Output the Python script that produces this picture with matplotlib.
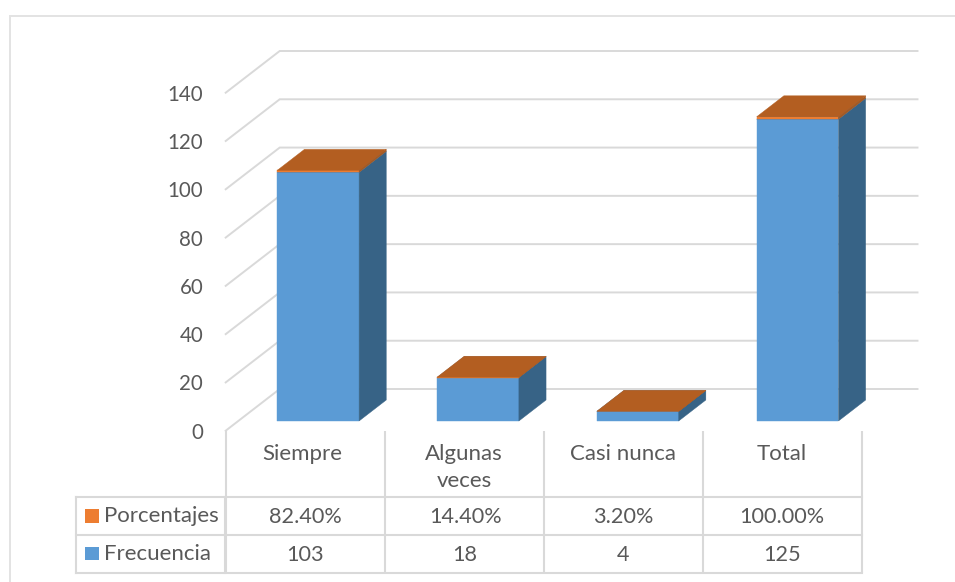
import matplotlib
matplotlib.use("Agg")
import matplotlib.pyplot as plt
from matplotlib.patches import Polygon, Rectangle
import numpy as np

categories = ["Siempre", "Algunas\nveces", "Casi nunca", "Total"]
frecuencia = [103, 18, 4, 125]
porcentajes = [0.824, 0.144, 0.032, 1.0]
frecuencia_labels = ["103", "18", "4", "125"]
porcentajes_labels = ["82.40%", "14.40%", "3.20%", "100.00%"]
y_ticks = [0, 20, 40, 60, 80, 100, 120, 140]

W, H = 955, 582
plt.rcParams['font.family'] = ['Lato', 'DejaVu Sans']
TXT = "#595959"
GRID = "#d9d9d9"
FS_TICK = 14.8
FS_WORD = 16.0
FS_NUM = 15.6

fig = plt.figure(figsize=(W / 100, H / 100), dpi=100, facecolor="white")

# overlay in pixel coordinates for the frame and the data table
ov = fig.add_axes([0, 0, 1, 1], zorder=0)
ov.set_xlim(0, W)
ov.set_ylim(H, 0)
ov.axis("off")

# main axes: one category = 159.8 px, 140 units = 338 px
XU = 159.8
L, T, B = 225.7, 92.7, 430.7
R = L + 4 * XU
ax = fig.add_axes([L / W, 1 - B / H, (R - L) / W, (B - T) / H], zorder=1)
ax.patch.set_alpha(0)
ax.set_xlim(0, 4)
ax.set_ylim(0, 140)
for s in ax.spines.values():
    s.set_visible(False)
ax.set_xticks([])
ax.set_yticks(y_ticks)
ax.tick_params(axis="y", length=0, pad=16.2, labelsize=FS_TICK, labelcolor=TXT)

YU = (B - T) / 140.0
WALL_DX = 54.0
WALL_DY = 41.7


def proj(x, y, d):
    return x + d * WALL_DX / XU, y + d * WALL_DY / YU


# gridlines: diagonal on the side wall, horizontal on the back wall
XE = (917.5 - L - WALL_DX) / XU
for v in y_ticks:
    p0 = proj(0, v, 0)
    p1 = proj(0, v, 1)
    p2 = proj(XE, v, 1)
    ax.plot([p0[0], p1[0], p2[0]], [p0[1], p1[1], p2[1]], color=GRID, lw=1.4,
            clip_on=False, zorder=1, solid_joinstyle="miter")

D0, D1 = 0.233, 0.736
BW = 0.512


def box(i, y0, y1, front, side, top):
    x0 = i + 0.5 - BW / 2
    x1 = i + 0.5 + BW / 2
    faces = [
        ([proj(x0, y0, D0), proj(x1, y0, D0), proj(x1, y1, D0), proj(x0, y1, D0)], front),
        ([proj(x1, y0, D0), proj(x1, y0, D1), proj(x1, y1, D1), proj(x1, y1, D0)], side),
        ([proj(x0, y1, D0), proj(x1, y1, D0), proj(x1, y1, D1), proj(x0, y1, D1)], top),
    ]
    for pts, c in faces:
        ax.add_patch(Polygon(pts, closed=True, facecolor=c, edgecolor=c, lw=0.3,
                             clip_on=False, zorder=3))


BLUE, BLUE_S, BLUE_T = "#5B9BD5", "#376386", "#4A7FB0"
ORG, ORG_S, ORG_T = "#ED7D31", "#A35A24", "#B35E21"
for i in range(len(categories)):
    box(i, 0, frecuencia[i], BLUE, BLUE_S, BLUE_T)
    box(i, frecuencia[i], frecuencia[i] + porcentajes[i], ORG, ORG_S, ORG_T)

# outer frame
FR = "#e3e3e3"
ov.plot([10, 10], [15.6, H], color=FR, lw=1.4)
ov.plot([10, W], [15.6, 15.6], color=FR, lw=1.4)

# data table
seps = [225.7, 385, 544, 702.5, 861.7]
RT, R1, R2 = 497, 535, 572.7
for x in seps:
    ov.plot([x, x], [B, R2], color=GRID, lw=1.5, solid_capstyle="butt")
ov.plot([224.5, 224.5], [RT, R2], color=GRID, lw=1.5)
ov.plot([76, 76], [RT, R2], color=GRID, lw=1.5)
for y in (RT, R1, R2):
    ov.plot([76, seps[-1]], [y, y], color=GRID, lw=1.5)

label_x = [302, 464, 623, 782]
value_x = [305, 465, 623, 782]
for x, c in zip(label_x, categories):
    ov.text(x, 444, c, ha="center", va="top", color=TXT, fontsize=FS_WORD, linespacing=1.42)
for x, a, b in zip(value_x, porcentajes_labels, frecuencia_labels):
    ov.text(x, 517, a, ha="center", va="center", color=TXT, fontsize=FS_NUM)
    ov.text(x, 555, b, ha="center", va="center", color=TXT, fontsize=FS_NUM)

ov.add_patch(Rectangle((85, 509), 14, 13.7, facecolor=ORG, edgecolor="none"))
ov.add_patch(Rectangle((85, 546.7), 14, 13.5, facecolor=BLUE, edgecolor="none"))
ov.text(104, 516, "Porcentajes", ha="left", va="center", color=TXT, fontsize=FS_WORD)
ov.text(104, 554, "Frecuencia", ha="left", va="center", color=TXT, fontsize=FS_WORD)

fig.savefig("out.png", dpi=100, facecolor="white")
